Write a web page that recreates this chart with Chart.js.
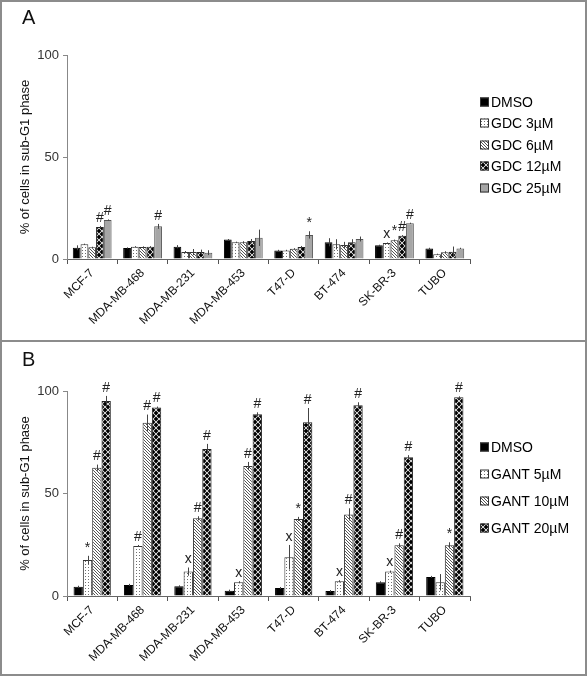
<!DOCTYPE html>
<html><head><meta charset="utf-8">
<script src="https://cdn.jsdelivr.net/npm/chart.js@4.4.0/dist/chart.umd.min.js"></script>
<style>
body{margin:0;background:#fff;}
#wrap{position:relative;width:587px;height:676px;overflow:hidden;font-family:"Liberation Sans",Arial,sans-serif;}
canvas{position:absolute;left:0;}
#cA{top:0;} #cB{top:341px;}
.frame{position:absolute;left:0;top:0;width:587px;height:676px;box-sizing:border-box;border:2px solid #8c8c8c;pointer-events:none;}
.sep{position:absolute;left:0;top:340px;width:587px;height:2px;background:#8c8c8c;}
.lab{position:absolute;left:22px;font-size:20px;color:#111;}
</style></head><body>
<div id="wrap">
<canvas id="cA" width="587" height="341"></canvas>
<canvas id="cB" width="587" height="335"></canvas>
<div class="frame"></div><div class="sep"></div>
<div class="lab" style="top:6px">A</div>
<div class="lab" style="top:348px">B</div>
</div>
<script>
// ---------- data ----------
const categories = ['MCF-7','MDA-MB-468','MDA-MB-231','MDA-MB-453','T47-D','BT-474','SK-BR-3','TUBO'];
const yTicks = [0, 50, 100];
const yTitle = '% of cells in sub-G1 phase';

// Panel A
const seriesA = ['DMSO','GDC 3µM','GDC 6µM','GDC 12µM','GDC 25µM'];
const dmsoA  = [5.5, 5.4, 6.0, 9.5, 4.2, 8.2, 6.7, 5.2];
const gdc3   = [7.2, 6.0, 3.4, 8.2, 4.2, 7.2, 7.8, 2.3];
const gdc6   = [5.7, 5.9, 3.4, 8.2, 5.0, 6.9, 9.2, 3.3];
const gdc12  = [15.7, 6.0, 3.4, 8.8, 5.9, 8.2, 11.4, 3.6];
const gdc25  = [19.1, 16.0, 3.1, 10.4, 11.8, 9.8, 17.5, 5.2];
const dmsoAErr = [1.2, 0.3, 0.8, 0.3, 0.3, 2.0, 0.3, 0.3];
const gdc3Err  = [0.3, 0.3, 0.5, 0.3, 0.3, 2.5, 0.3, 0.3];
const gdc6Err  = [0.3, 0.3, 1.5, 0.5, 0.3, 1.5, 0.3, 0.5];
const gdc12Err = [0.5, 0.3, 1.2, 1.0, 0.5, 1.5, 0.3, 2.5];
const gdc25Err = [0.3, 1.2, 1.2, 4.0, 1.8, 1.2, 0.3, 0.3];
const dmsoAMarks = ['','','','','','','',''];
const gdc3Marks  = ['','','','','','','x',''];
const gdc6Marks  = ['','','','','','','*',''];
const gdc12Marks = ['#','','','','','','#',''];
const gdc25Marks = ['#','#','','','*','','#',''];

// Panel B
const seriesB = ['DMSO','GANT 5µM','GANT 10µM','GANT 20µM'];
const dmsoB  = [4.5, 5.4, 4.7, 2.6, 3.9, 2.4, 6.7, 9.3];
const gant5  = [17.6, 24.4, 11.9, 6.7, 18.9, 7.2, 11.9, 6.7];
const gant10 = [62.6, 84.5, 37.9, 63.4, 37.6, 39.8, 24.7, 24.7];
const gant20 = [95.1, 91.9, 71.7, 88.6, 84.7, 93.0, 67.7, 96.9];
const dmsoBErr  = [0.5, 0.5, 0.5, 0.5, 0.5, 0.5, 0.5, 0.5];
const gant5Err  = [2.0, 0.5, 2.0, 0.5, 6.0, 0.5, 0.5, 4.0];
const gant10Err = [1.5, 4.0, 1.0, 2.0, 1.0, 3.0, 1.0, 1.5];
const gant20Err = [2.5, 0.5, 2.5, 1.0, 7.0, 1.5, 1.0, 0.5];
const dmsoBMarks  = ['','','','','','','',''];
const gant5Marks  = ['*','#','x','x','x','x','x',''];
const gant10Marks = ['#','#','#','#','*','#','#','*'];
const gant20Marks = ['#','#','#','#','#','#','#','#'];

// ---------- patterns ----------
function tile(w, h, draw) {
  const c = document.createElement('canvas'); c.width = w; c.height = h;
  const g = c.getContext('2d'); g.fillStyle = '#fff'; g.fillRect(0, 0, w, h); draw(g, w, h);
  return document.createElement('canvas').getContext('2d').createPattern(c, 'repeat');
}
const dotPat = tile(3, 3, g => { g.fillStyle = '#6f6f6f'; g.fillRect(1, 1, 1, 1); });
const hatchPat = tile(3, 3, g => {
  g.fillStyle = '#555';
  g.fillRect(0, 0, 1, 1); g.fillRect(1, 1, 1, 1); g.fillRect(2, 2, 1, 1);
});
const checkPat = tile(6, 6, g => {
  g.fillStyle = '#000';
  const dia = (cx, cy, r) => { g.beginPath(); g.moveTo(cx, cy - r); g.lineTo(cx + r, cy); g.lineTo(cx, cy + r); g.lineTo(cx - r, cy); g.closePath(); g.fill(); };
  dia(3, 3, 2.4); dia(0, 0, 2.4); dia(6, 0, 2.4); dia(0, 6, 2.4); dia(6, 6, 2.4);
});

// ---------- plugins ----------
const FONT = '"Liberation Sans", Arial, sans-serif';
Chart.defaults.font.family = FONT;

const errPlugin = {
  id: 'errs',
  afterDatasetsDraw(chart) {
    const ctx = chart.ctx, ys = chart.scales.y;
    ctx.save();
    chart.data.datasets.forEach((ds, i) => {
      const meta = chart.getDatasetMeta(i);
      meta.data.forEach((bar, j) => {
        const v = ds.data[j], e = ds.errors[j];
        const yt = ys.getPixelForValue(v + e), yb = ys.getPixelForValue(Math.max(0, v - e));
        const x = Math.round(bar.x) + 0.5;
        ctx.strokeStyle = '#444'; ctx.lineWidth = 1;
        ctx.beginPath(); ctx.moveTo(x, yt); ctx.lineTo(x, yb); ctx.stroke();
        const m = ds.marks[j];
        if (m) {
          ctx.fillStyle = '#222'; ctx.font = '14px ' + FONT;
          ctx.textAlign = 'center'; ctx.textBaseline = 'bottom';
          ctx.fillText(m, bar.x, yt - 1);
        }
      });
    });
    ctx.restore();
  }
};
const legendPlugin = {
  id: 'sideLegend',
  afterDraw(chart, args, o) {
    const ctx = chart.ctx;
    ctx.save();
    ctx.font = o.size + 'px ' + FONT;
    ctx.textBaseline = 'middle'; ctx.textAlign = 'left';
    chart.data.datasets.forEach((ds, i) => {
      const cy = Math.round(o.y + i * o.dy);
      ctx.fillStyle = ds.backgroundColor;
      ctx.fillRect(o.x, cy - o.box / 2, o.box, o.box);
      ctx.strokeStyle = '#333'; ctx.lineWidth = 1;
      ctx.strokeRect(o.x + 0.5, cy - o.box / 2 + 0.5, o.box - 1, o.box - 1);
      ctx.fillStyle = '#000';
      ctx.fillText(ds.label, o.x + o.box + 2, cy + 1);
    });
    ctx.restore();
  }
};

function ds(label, data, errors, marks, bg, border) {
  return { label, data, errors, marks, backgroundColor: bg, borderColor: border, borderWidth: 1 };
}
function makeOptions(cfg) {
  return {
    responsive: false, animation: false,
    datasets: { bar: { categoryPercentage: cfg.cat, barPercentage: 1.0 } },
    layout: { padding: { left: 0, right: 117, top: cfg.top, bottom: 0 } },
    plugins: { legend: { display: false }, tooltip: { enabled: false }, sideLegend: cfg.legend },
    scales: {
      x: {
        grid: { display: true, offset: true, drawOnChartArea: false, tickLength: 5, color: '#555' },
        border: { color: '#666', width: 1 },
        ticks: { minRotation: 45, maxRotation: 45, autoSkip: false, font: { size: 12 }, color: '#111', padding: 2 },
        afterFit(s) { s.height = cfg.xh; }
      },
      y: {
        min: 0, max: 100,
        afterBuildTicks(s) { s.ticks = yTicks.map(v => ({ value: v })); },
        grid: { drawOnChartArea: false, tickLength: 4, color: '#888' },
        border: { color: '#888', width: 1 },
        ticks: { font: { size: 13 }, color: '#333', padding: 4 },
        title: { display: true, text: yTitle, font: { size: 13 }, color: '#111', padding: { top: 18, bottom: 0 } },
        afterFit(s) { s.width = 67; }
      }
    }
  };
}

new Chart(document.getElementById('cA'), {
  type: 'bar',
  data: {
    labels: categories,
    datasets: [
      ds(seriesA[0], dmsoA, dmsoAErr, dmsoAMarks, '#000', '#000'),
      ds(seriesA[1], gdc3, gdc3Err, gdc3Marks, dotPat, '#333'),
      ds(seriesA[2], gdc6, gdc6Err, gdc6Marks, hatchPat, '#333'),
      ds(seriesA[3], gdc12, gdc12Err, gdc12Marks, checkPat, '#222'),
      ds(seriesA[4], gdc25, gdc25Err, gdc25Marks, '#a6a6a6', '#555')
    ]
  },
  options: makeOptions({ cat: 0.77, top: 55, xh: 82, legend: { x: 480, y: 101.7, dy: 21.5, box: 9, size: 14 } }),
  plugins: [errPlugin, legendPlugin]
});

new Chart(document.getElementById('cB'), {
  type: 'bar',
  data: {
    labels: categories,
    datasets: [
      ds(seriesB[0], dmsoB, dmsoBErr, dmsoBMarks, '#000', '#000'),
      ds(seriesB[1], gant5, gant5Err, gant5Marks, dotPat, '#333'),
      ds(seriesB[2], gant10, gant10Err, gant10Marks, hatchPat, '#333'),
      ds(seriesB[3], gant20, gant20Err, gant20Marks, checkPat, '#222')
    ]
  },
  options: makeOptions({ cat: 0.74, top: 50, xh: 80, legend: { x: 480, y: 105.7, dy: 27, box: 9, size: 14 } }),
  plugins: [errPlugin, legendPlugin]
});
</script>
</body></html>
